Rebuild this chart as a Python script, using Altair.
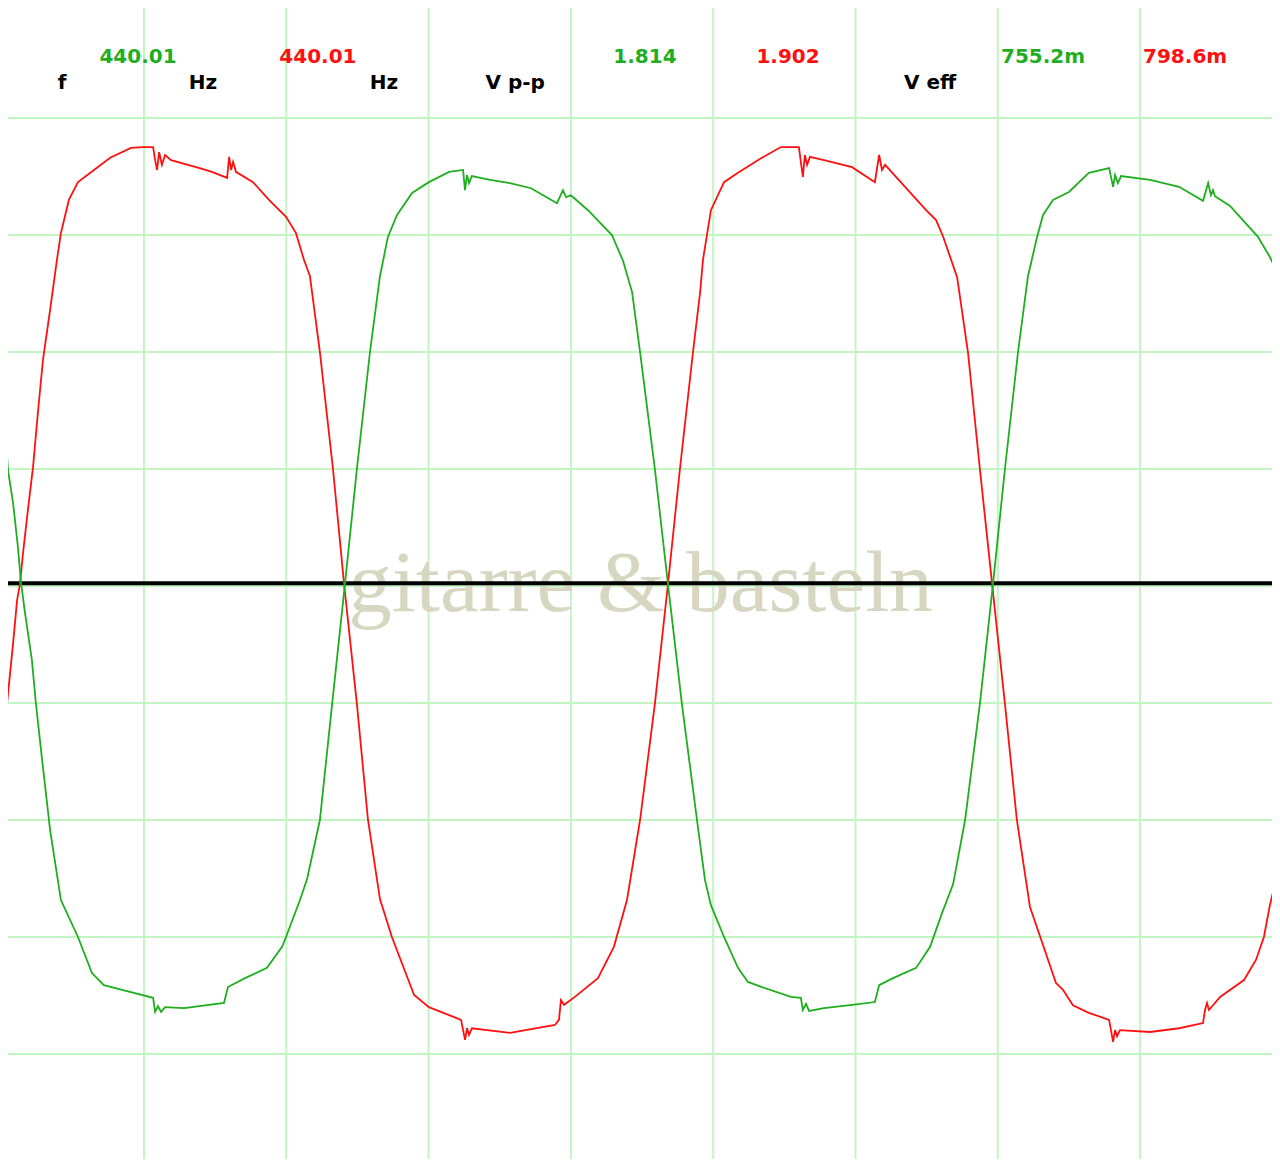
import altair as alt
import pandas as pd

# Oscilloscope screen: time in ms (0.5 ms/div), voltage in V (0.25 V/div)
red_t = [-0.006, 0.019, 0.040, 0.054, 0.064, 0.075, 0.092, 0.110, 0.128, 0.145, 0.170, 0.194, 0.208, 0.236,
         0.268, 0.324, 0.381, 0.454, 0.496, 0.532, 0.539, 0.546, 0.553, 0.563, 0.574, 0.595, 0.683, 0.739,
         0.792, 0.799, 0.806, 0.813, 0.823, 0.883, 0.939, 0.999, 1.034, 1.062, 1.083, 1.118, 1.164, 1.203,
         1.248, 1.287, 1.329, 1.371, 1.449, 1.501, 1.614, 1.628, 1.635, 1.642, 1.652, 1.786, 1.944, 1.958,
         1.965, 1.976, 2.014, 2.095, 2.151, 2.197, 2.243, 2.295, 2.341, 2.383, 2.429, 2.454, 2.464, 2.492,
         2.538, 2.587, 2.671, 2.738, 2.801, 2.815, 2.822, 2.830, 2.840, 2.889, 2.988, 3.068, 3.083, 3.093,
         3.104, 3.174, 3.248, 3.283, 3.307, 3.357, 3.395, 3.437, 3.480, 3.525, 3.567, 3.613, 3.648, 3.704,
         3.729, 3.764, 3.820, 3.891, 3.905, 3.912, 3.919, 3.929, 4.035, 4.137, 4.221, 4.228, 4.235, 4.242,
         4.281, 4.365, 4.407, 4.435, 4.456, 4.492]
red_v = [-0.372, -0.250, -0.122, -0.030, 0.004, 0.071, 0.162, 0.254, 0.376, 0.483, 0.590, 0.697, 0.754, 0.825,
         0.863, 0.889, 0.915, 0.936, 0.938, 0.938, 0.910, 0.889, 0.927, 0.900, 0.921, 0.910, 0.895, 0.885,
         0.872, 0.917, 0.889, 0.906, 0.885, 0.863, 0.825, 0.789, 0.754, 0.697, 0.662, 0.500, 0.250, 0.004,
         -0.252, -0.500, -0.669, -0.750, -0.874, -0.900, -0.927, -0.970, -0.945, -0.959, -0.945, -0.955, -0.938, -0.927,
         -0.885, -0.895, -0.878, -0.838, -0.771, -0.671, -0.500, -0.252, 0.004, 0.250, 0.500, 0.628, 0.697, 0.803,
         0.863, 0.883, 0.915, 0.938, 0.938, 0.874, 0.921, 0.900, 0.917, 0.910, 0.895, 0.863, 0.921, 0.889,
         0.900, 0.853, 0.803, 0.782, 0.748, 0.660, 0.500, 0.250, 0.004, -0.252, -0.500, -0.686, -0.748, -0.848,
         -0.863, -0.896, -0.912, -0.927, -0.974, -0.949, -0.962, -0.949, -0.953, -0.945, -0.934, -0.906, -0.891, -0.906,
         -0.878, -0.842, -0.799, -0.750, -0.682, -0.590]

green_t = [-0.006, 0.012, 0.022, 0.040, 0.057, 0.068, 0.082, 0.106, 0.120, 0.142, 0.170, 0.208, 0.268, 0.317,
           0.359, 0.423, 0.532, 0.539, 0.549, 0.560, 0.574, 0.641, 0.781, 0.795, 0.855, 0.932, 0.985, 0.999,
           1.048, 1.073, 1.118, 1.161, 1.206, 1.248, 1.294, 1.329, 1.357, 1.389, 1.442, 1.501, 1.572, 1.621,
           1.628, 1.635, 1.642, 1.652, 1.716, 1.786, 1.860, 1.951, 1.972, 1.983, 2.000, 2.060, 2.144, 2.183,
           2.215, 2.243, 2.295, 2.341, 2.390, 2.443, 2.471, 2.492, 2.538, 2.587, 2.622, 2.671, 2.773, 2.808,
           2.815, 2.826, 2.837, 2.889, 2.988, 3.068, 3.083, 3.132, 3.213, 3.262, 3.304, 3.343, 3.385, 3.437,
           3.483, 3.525, 3.571, 3.606, 3.638, 3.659, 3.694, 3.750, 3.820, 3.891, 3.905, 3.912, 3.922, 3.933,
           4.035, 4.137, 4.221, 4.239, 4.249, 4.256, 4.263, 4.316, 4.414, 4.456, 4.481, 4.492]
green_v = [0.404, 0.340, 0.248, 0.177, 0.083, 0.006, -0.058, -0.158, -0.250, -0.372, -0.521, -0.671, -0.750, -0.827,
           -0.853, -0.863, -0.880, -0.910, -0.898, -0.910, -0.900, -0.902, -0.891, -0.857, -0.838, -0.816, -0.771, -0.750,
           -0.671, -0.626, -0.500, -0.252, 0.004, 0.250, 0.500, 0.662, 0.746, 0.793, 0.840, 0.863, 0.885, 0.889,
           0.846, 0.878, 0.861, 0.876, 0.868, 0.861, 0.850, 0.818, 0.846, 0.831, 0.835, 0.803, 0.750, 0.695,
           0.628, 0.500, 0.250, 0.004, -0.252, -0.500, -0.628, -0.682, -0.750, -0.816, -0.846, -0.857, -0.878, -0.880,
           -0.906, -0.893, -0.908, -0.902, -0.895, -0.889, -0.853, -0.838, -0.816, -0.771, -0.699, -0.637, -0.500, -0.252,
           0.004, 0.250, 0.500, 0.662, 0.746, 0.793, 0.825, 0.842, 0.883, 0.893, 0.853, 0.878, 0.861, 0.876,
           0.868, 0.853, 0.823, 0.861, 0.835, 0.846, 0.833, 0.812, 0.746, 0.703, 0.671, 0.622]

grid_t = [0.0, 0.5, 1.0, 1.5, 2.0, 2.5, 3.0, 3.5, 4.0, 4.5]
grid_v = [-1.0, -0.75, -0.5, -0.25, 0.0, 0.25, 0.5, 0.75, 1.0]
ref_level = [0.006]

# measurement readout
meas_names = ["f", "V p-p", "V eff"]
ch1_vals = ["440.01", "1.814", "755.2m"]
ch2_vals = ["440.01", "1.902", "798.6m"]
freq_unit = "Hz"
watermark = "gitarre & basteln"

GREEN = "#1fae1f"
RED = "#ff1010"
GRIDC = "#c2f5c2"

# readout placement on the screen (ms, V)
name_pos_t = [0.212, 1.804, 3.262]
ch1_pos_t = [0.479, 2.260, 3.659]
ch2_pos_t = [1.111, 2.763, 4.158]
unit_pos_t = [0.707, 1.343]
row_values_v = 1.118
row_names_v = 1.062

W, H = 1264, 1151
xs = alt.Scale(domain=[0.0221, 4.4634], nice=False, zero=False)
ys = alt.Scale(domain=[-1.2244, 1.2351], nice=False, zero=False)

gx = pd.DataFrame({"t": grid_t})
gy = pd.DataFrame({"v": grid_v})
vgrid = alt.Chart(gx).mark_rule(color=GRIDC, strokeWidth=2, clip=True).encode(
    x=alt.X("t:Q", scale=xs, axis=None))
hgrid = alt.Chart(gy).mark_rule(color=GRIDC, strokeWidth=2, clip=True).encode(
    y=alt.Y("v:Q", scale=ys, axis=None))

wm = alt.Chart(pd.DataFrame({"txt": [watermark], "t": [2.2445], "v": [-0.0534]})).mark_text(
    font="Liberation Serif", fontSize=87, color="#d7d7c1", align="center", baseline="alphabetic"
).encode(x=alt.X("t:Q", scale=xs), y=alt.Y("v:Q", scale=ys), text="txt:N")

zero = alt.Chart(pd.DataFrame({"v": ref_level})).mark_rule(color="black", strokeWidth=4).encode(
    y=alt.Y("v:Q", scale=ys))

red_df = pd.DataFrame({"t": red_t, "v": red_v})
green_df = pd.DataFrame({"t": green_t, "v": green_v})
red_line = alt.Chart(red_df).mark_line(color=RED, strokeWidth=1.8, clip=True).encode(
    x=alt.X("t:Q", scale=xs), y=alt.Y("v:Q", scale=ys), order="t:Q")
green_line = alt.Chart(green_df).mark_line(color=GREEN, strokeWidth=1.8, clip=True).encode(
    x=alt.X("t:Q", scale=xs), y=alt.Y("v:Q", scale=ys), order="t:Q")

def txt(labels, ts, v, color):
    df = pd.DataFrame({"txt": labels, "t": ts, "v": [v] * len(labels)})
    return alt.Chart(df).mark_text(
        font="DejaVu Sans", fontSize=20, fontWeight="bold", color=color,
        align="center", baseline="alphabetic"
    ).encode(x=alt.X("t:Q", scale=xs), y=alt.Y("v:Q", scale=ys), text="txt:N")

names = txt(meas_names, name_pos_t, row_names_v, "black")
units = txt([freq_unit, freq_unit], unit_pos_t, row_names_v, "black")
c1 = txt(ch1_vals, ch1_pos_t, row_values_v, GREEN)
c2 = txt(ch2_vals, ch2_pos_t, row_values_v, RED)

chart = alt.layer(vgrid, hgrid, wm, zero, red_line, green_line, names, units, c1, c2).properties(
    width=W, height=H, padding=0, autosize=alt.AutoSizeParams(type="none"), background="white"
).configure_view(stroke=None)

chart.save("out.html", embed_options={"renderer": "svg", "actions": False})
